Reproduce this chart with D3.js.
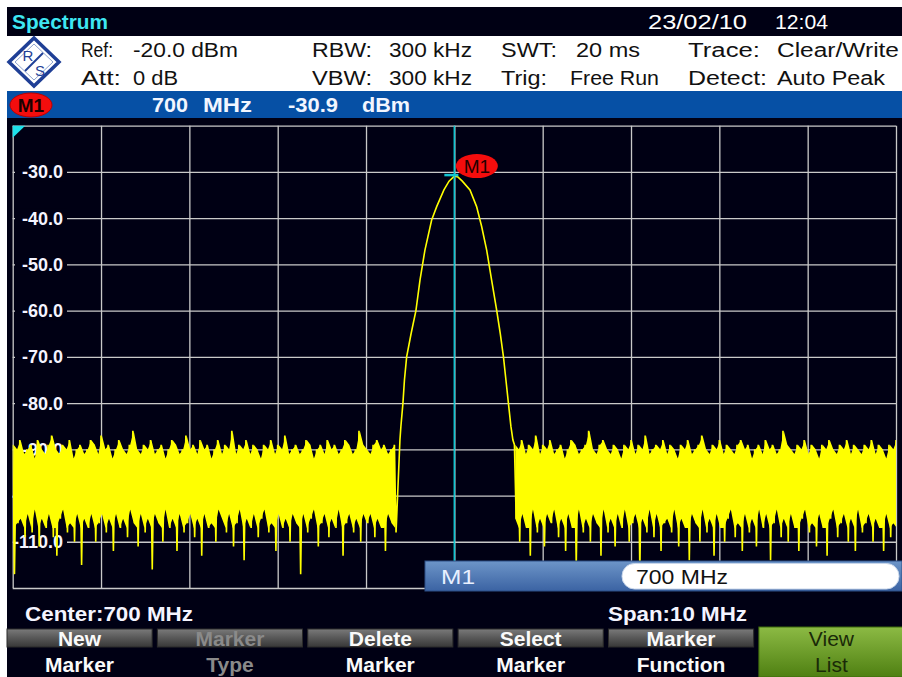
<!DOCTYPE html>
<html>
<head>
<meta charset="utf-8">
<script src="https://cdn.jsdelivr.net/npm/d3@7"></script>
<style>
  body { margin: 0; background: #fff; }
  svg { display: block; font-family: "Liberation Sans", Arial, sans-serif; }
</style>
</head>
<body>
<div id="chart"></div>
<script>
const W = 902, H = 677;
const plot = { left: 12.7, right: 896, top: 125.7, bottom: 588 };
const screenBg = "#000014";

// analyzer settings
const freqDomain = [695, 705];
const levelDomain = [-120, -20];
const yTickLabels = [-30, -40, -50, -60, -70, -80, -90, -100, -110];
const markerFreq = 700;
const markerLevel = -30.9;

// sweep points, noise floor left of the carrier (dBm, 0.02 MHz apart)
const noiseStep = 0.02;
const noiseLeftStart = 695.0;
const noiseLeft = [
  -89,-117,-90,-106,-88,-105,-91,-109,-90,-104,-89,-108,-92,-103,-88,-111,-90,-105,-91,-107,
  -89,-104,-87,-109,-90,-113,-91,-105,-89,-103,-90,-108,-88,-106,-92,-110,-90,-104,-89,-115,
  -91,-105,-90,-107,-88,-104,-89,-110,-91,-106,-87,-104,-90,-108,-89,-105,-92,-112,-90,-104,
  -88,-107,-90,-105,-91,-109,-89,-103,-86,-106,-90,-111,-91,-104,-89,-108,-90,-105,-88,-116,
  -91,-104,-90,-106,-89,-110,-92,-103,-90,-107,-88,-105,-89,-112,-91,-104,-90,-108,-87,-106,
  -90,-104,-89,-109,-91,-105,-88,-113,-90,-104,-89,-107,-92,-106,-90,-110,-88,-103,-91,-105,
  -89,-108,-90,-104,-86,-111,-91,-106,-89,-103,-90,-114,-88,-105,-91,-107,-89,-104,-90,-109,
  -92,-105,-89,-103,-90,-108,-88,-106,-91,-112,-89,-104,-90,-107,-87,-105,-91,-110,-90,-104,
  -89,-106,-91,-117,-90,-104,-88,-108,-89,-105,-92,-103,-90,-111,-89,-106,-91,-104,-88,-109,
  -90,-105,-89,-107,-91,-103,-90,-113,-88,-106,-89,-104,-91,-108,-90,-105,-86,-110,-89,-104,
  -90,-106,-91,-104,-89,-109,-88,-105,-90,-107,-89,-112,-91,-104,-90,-106,-89,-108
];

// carrier skirt
const peakFreq = [
  699.384, 699.395, 699.418, 699.435, 699.46, 699.51, 699.565, 699.611, 699.667, 699.743,
  699.80, 699.882, 699.94, 700.00, 700.04, 700.09, 700.177, 700.252, 700.309, 700.366,
  700.422, 700.479, 700.52, 700.556, 700.584, 700.612, 700.64, 700.663
];
const peakLevel = [
  -88, -85, -80, -75, -70, -65, -60, -53.4, -46.9, -40.4,
  -37.5, -33.9, -32, -30.9, -31.1, -32, -33.9, -37.5, -41.8, -46.9,
  -53.4, -59.9, -65, -70, -75, -80, -85, -88
];

// noise floor right of the carrier
const noiseRightStart = 700.68;
const noiseRight = [
  -89,-105,-90,-110,-88,-104,-91,-107,-89,-113,-90,-103,-87,-108,-91,-105,-89,-111,-90,-104,
  -88,-106,-91,-103,-90,-109,-89,-105,-92,-112,-90,-104,-88,-107,-89,-115,-91,-103,-90,-108,
  -89,-105,-86,-110,-90,-104,-91,-106,-89,-113,-88,-103,-90,-108,-91,-105,-89,-111,-90,-104,
  -92,-107,-89,-103,-90,-110,-88,-106,-91,-104,-89,-116,-90,-105,-87,-108,-91,-103,-90,-109,
  -89,-104,-90,-112,-88,-106,-91,-105,-89,-108,-90,-103,-92,-111,-89,-105,-90,-107,-88,-114,
  -91,-104,-90,-106,-89,-110,-87,-103,-90,-108,-91,-105,-89,-113,-90,-104,-88,-107,-91,-110,
  -89,-105,-90,-103,-91,-109,-89,-106,-88,-112,-90,-104,-89,-108,-92,-105,-90,-111,-89,-103,
  -91,-107,-88,-104,-90,-114,-89,-106,-91,-103,-90,-109,-86,-105,-89,-110,-90,-104,-91,-107,
  -89,-112,-90,-105,-88,-103,-91,-108,-89,-106,-90,-111,-92,-104,-89,-107,-90,-113,-88,-105,
  -90,-103,-91,-109,-89,-106,-90,-104,-88,-110,-91,-105,-89,-112,-90,-103,-91,-108,-89,-106,
  -90,-104,-88,-110,-91,-105,-89,-107,-90,-112,-92,-104,-89,-109,-90,-106,-88,-118
];

// header texts: [text, x, width]
const infoRows = [
  [["Ref:", 81, 32], ["-20.0 dBm", 133, 105], ["RBW:", 312, 60], ["300 kHz", 389, 83],
   ["SWT:", 501, 56], ["20 ms", 576, 64], ["Trace:", 688, 72], ["Clear/Write", 777, 122]],
  [["Att:", 81, 40], ["0 dB", 133, 45], ["VBW:", 312, 60], ["300 kHz", 389, 83],
   ["Trig:", 501, 46], ["Free Run", 570, 89], ["Detect:", 688, 79], ["Auto Peak", 777, 108]]
];

// softkeys
const softTop = ["New", "Marker", "Delete", "Select", "Marker", "View"];
const softBottom = ["Marker", "Type", "Marker", "Marker", "Function", "List"];
const softState = ["on", "off", "on", "on", "on", "active"];

// ---------------------------------------------------------------

const trace = [
  ...noiseLeft.map((v, i) => ({ f: noiseLeftStart + i * noiseStep, v })),
  ...peakFreq.map((f, i) => ({ f, v: peakLevel[i] })),
  ...noiseRight.map((v, i) => ({ f: noiseRightStart + i * noiseStep, v }))
];

// dense part of the noise band (peak/dip pairs, deep dips left to the line)
const band = (arr, start) => d3.range(0, arr.length - 1, 2).map(i => ({
  f: start + (i + 0.5) * noiseStep,
  hi: arr[i],
  lo: Math.max(arr[i + 1], -107)
}));

const x = d3.scaleLinear().domain(freqDomain).range([plot.left, plot.right]);
const y = d3.scaleLinear().domain(levelDomain).range([plot.bottom, plot.top]);

const svg = d3.select("#chart").append("svg")
  .attr("width", W)
  .attr("height", H);

const defs = svg.append("defs");

const grad = (id, stops) => {
  const g = defs.append("linearGradient").attr("id", id)
    .attr("x1", 0).attr("y1", 0).attr("x2", 0).attr("y2", 1);
  stops.forEach(([o, c]) => g.append("stop").attr("offset", o).attr("stop-color", c));
};
grad("gray-key", [[0, "#7a7a7a"], [0.5, "#575757"], [1, "#383838"]]);
grad("green-key", [[0, "#8cba44"], [1, "#4f8012"]]);
grad("m-bar", [[0, "#6d95c8"], [1, "#3b63a3"]]);

defs.append("clipPath").attr("id", "plot-clip")
  .append("rect")
    .attr("x", plot.left)
    .attr("y", plot.top)
    .attr("width", plot.right - plot.left)
    .attr("height", plot.bottom - plot.top);

// screen areas
svg.append("rect").attr("x", 7).attr("y", 7).attr("width", W - 7).attr("height", 29).attr("fill", screenBg);
svg.append("rect").attr("x", 7).attr("y", 91).attr("width", W - 7).attr("height", 27).attr("fill", "#0650a5");
svg.append("rect").attr("x", 7).attr("y", 118).attr("width", W - 7).attr("height", H - 118).attr("fill", screenBg);

// title bar
svg.append("text").attr("x", 12).attr("y", 29)
  .attr("font-size", 21).attr("font-weight", "bold").attr("fill", "#3ee6f2")
  .attr("textLength", 96).attr("lengthAdjust", "spacingAndGlyphs")
  .text("Spectrum");
svg.append("text").attr("x", 648).attr("y", 29)
  .attr("font-size", 21).attr("fill", "#fff")
  .attr("textLength", 99).attr("lengthAdjust", "spacingAndGlyphs")
  .text("23/02/10");
svg.append("text").attr("x", 775).attr("y", 29)
  .attr("font-size", 21).attr("fill", "#fff")
  .attr("textLength", 53).attr("lengthAdjust", "spacingAndGlyphs")
  .text("12:04");

// R&S logo
const logo = svg.append("g").attr("transform", "translate(34,62)")
  .attr("fill", "none").attr("stroke", "#1f3f96");
logo.append("path").attr("d", "M0,-24L25,0L0,24L-25,0Z").attr("stroke-width", 3.5);
logo.append("path").attr("d", "M0,-18L19,0L0,18L-19,0Z").attr("stroke-width", 1).attr("stroke", "#8fa3cf");
logo.append("path").attr("d", "M-9,9L9,-9").attr("stroke-width", 2);
logo.append("text").attr("x", -6).attr("y", -1).attr("text-anchor", "middle")
  .attr("font-size", 15).attr("stroke", "none").attr("fill", "#1f3f96").text("R");
logo.append("text").attr("x", 6).attr("y", 14).attr("text-anchor", "middle")
  .attr("font-size", 15).attr("stroke", "none").attr("fill", "#1f3f96").text("S");

// setting texts
infoRows.forEach((row, r) => {
  svg.append("g").selectAll("text").data(row).join("text")
    .attr("x", d => d[1])
    .attr("y", r === 0 ? 57 : 85)
    .attr("font-size", 20)
    .attr("fill", "#111")
    .attr("textLength", d => d[2])
    .attr("lengthAdjust", "spacingAndGlyphs")
    .text(d => d[0]);
});

// marker readout bar
svg.append("ellipse").attr("cx", 31).attr("cy", 105).attr("rx", 21).attr("ry", 12)
  .attr("fill", "#f40d0d").attr("stroke", "#b00").attr("stroke-width", 1);
svg.append("text").attr("x", 31).attr("y", 112).attr("text-anchor", "middle")
  .attr("font-size", 19).attr("font-weight", "bold").attr("fill", "#1a0000").text("M1");
const readout = [[`${markerFreq}`, 152, 36], ["MHz", 203, 49], [markerLevel.toFixed(1), 288, 50], ["dBm", 362, 48]];
svg.append("g").selectAll("text").data(readout).join("text")
  .attr("x", d => d[1]).attr("y", 112)
  .attr("font-size", 20).attr("font-weight", "bold").attr("fill", "#f2f6ff")
  .attr("textLength", d => d[2]).attr("lengthAdjust", "spacingAndGlyphs")
  .text(d => d[0]);

// grid
const gridStyle = g => g
  .call(g => g.select(".domain").remove())
  .call(g => g.selectAll("line").attr("stroke", "#c9c9c9").attr("stroke-width", 1.3));

svg.append("g")
  .attr("transform", `translate(0,${plot.bottom})`)
  .call(d3.axisBottom(x).ticks(10).tickSize(-(plot.bottom - plot.top)).tickFormat(""))
  .call(gridStyle);

svg.append("g")
  .attr("transform", `translate(${plot.left},0)`)
  .call(d3.axisLeft(y).ticks(10).tickSize(-(plot.right - plot.left)).tickFormat(""))
  .call(gridStyle);

// level labels
const labels = svg.append("g");
labels.selectAll("rect").data(yTickLabels).join("rect")
  .attr("x", 15)
  .attr("y", d => y(d) - 10)
  .attr("width", 52)
  .attr("height", 20)
  .attr("fill", screenBg);
labels.selectAll("text").data(yTickLabels).join("text")
  .attr("x", 63)
  .attr("y", d => y(d) + 6.5)
  .attr("text-anchor", "end")
  .attr("font-size", 18)
  .attr("font-weight", "bold")
  .attr("fill", "#f4f4ff")
  .text(d => d.toFixed(1));

// reference level corner flag
svg.append("path")
  .attr("d", `M${plot.left},${plot.top}h12.5L${plot.left},${plot.top + 12}Z`)
  .attr("fill", "#1ee0ea");

// trace
const traceG = svg.append("g").attr("clip-path", "url(#plot-clip)");

const area = d3.area()
  .x(d => x(d.f))
  .y0(d => y(d.lo))
  .y1(d => y(d.hi));

[band(noiseLeft, noiseLeftStart), band(noiseRight, noiseRightStart)].forEach(b => {
  traceG.append("path")
    .datum(b)
    .attr("fill", "#ffff00")
    .attr("d", area);
});

const line = d3.line()
  .x(d => x(d.f))
  .y(d => y(d.v));

traceG.append("path")
  .datum(trace)
  .attr("fill", "none")
  .attr("stroke", "#ffff00")
  .attr("stroke-width", 1.6)
  .attr("stroke-linejoin", "miter")
  .attr("d", line);

// marker
const mx = x(markerFreq), my = y(markerLevel);
svg.append("line")
  .attr("x1", mx).attr("x2", mx)
  .attr("y1", plot.top).attr("y2", plot.bottom)
  .attr("stroke", "#12c6d2").attr("stroke-width", 1.6);
svg.append("line")
  .attr("x1", mx - 10).attr("x2", mx + 4)
  .attr("y1", my - 1).attr("y2", my - 1)
  .attr("stroke", "#12c6d2").attr("stroke-width", 2.5);
svg.append("ellipse")
  .attr("cx", mx + 22.5).attr("cy", my - 10).attr("rx", 21).attr("ry", 12)
  .attr("fill", "#f40d0d");
svg.append("text")
  .attr("x", mx + 22.5).attr("y", my - 3.5)
  .attr("text-anchor", "middle")
  .attr("font-size", 19).attr("fill", "#220000")
  .text("M1");

// marker edit bar
svg.append("rect").attr("x", 425).attr("y", 561).attr("width", W - 425).attr("height", 30)
  .attr("fill", "url(#m-bar)").attr("stroke", "#2c4f86").attr("stroke-width", 1);
svg.append("text").attr("x", 441).attr("y", 584)
  .attr("font-size", 21).attr("fill", "#e8f0ff")
  .attr("textLength", 34).attr("lengthAdjust", "spacingAndGlyphs")
  .text("M1");
svg.append("rect").attr("x", 622).attr("y", 563.5).attr("width", 277).attr("height", 25.5)
  .attr("rx", 12.5).attr("fill", "#fff").attr("stroke", "#c8d6ea");
svg.append("text").attr("x", 636).attr("y", 584)
  .attr("font-size", 21).attr("fill", "#111")
  .attr("textLength", 92).attr("lengthAdjust", "spacingAndGlyphs")
  .text(`${markerFreq} MHz`);

// center / span
svg.append("text").attr("x", 25).attr("y", 621)
  .attr("font-size", 20).attr("font-weight", "bold").attr("fill", "#f4f4ff")
  .attr("textLength", 168).attr("lengthAdjust", "spacingAndGlyphs")
  .text(`Center:${(freqDomain[0] + freqDomain[1]) / 2} MHz`);
svg.append("text").attr("x", 608).attr("y", 621)
  .attr("font-size", 20).attr("font-weight", "bold").attr("fill", "#f4f4ff")
  .attr("textLength", 139).attr("lengthAdjust", "spacingAndGlyphs")
  .text(`Span:${freqDomain[1] - freqDomain[0]} MHz`);

// softkeys
const keyX = d3.scaleBand().domain(d3.range(6)).range([7, 904]).paddingInner(0.035);
const keys = svg.append("g").selectAll("g").data(d3.range(6)).join("g")
  .attr("transform", i => `translate(${keyX(i)},0)`);

keys.append("rect")
  .attr("y", d => softState[d] === "active" ? 627 : 629)
  .attr("width", keyX.bandwidth())
  .attr("height", d => softState[d] === "active" ? 50 : 18)
  .attr("fill", d => softState[d] === "active" ? "url(#green-key)" : "url(#gray-key)")
  .attr("stroke", d => softState[d] === "active" ? "#3d6a0c" : "#2a2a2a");

const keyColor = d => softState[d] === "active" ? "#1a2a08" : softState[d] === "off" ? "#8a8a8a" : "#fafafa";
const keyWeight = d => softState[d] === "active" ? "normal" : "bold";

keys.append("text")
  .attr("x", keyX.bandwidth() / 2).attr("y", 646)
  .attr("text-anchor", "middle").attr("font-size", 21)
  .attr("font-weight", keyWeight).attr("fill", keyColor)
  .text(d => softTop[d]);
keys.append("text")
  .attr("x", keyX.bandwidth() / 2).attr("y", 672)
  .attr("text-anchor", "middle").attr("font-size", 21)
  .attr("font-weight", keyWeight).attr("fill", keyColor)
  .text(d => softBottom[d]);
</script>
</body>
</html>
